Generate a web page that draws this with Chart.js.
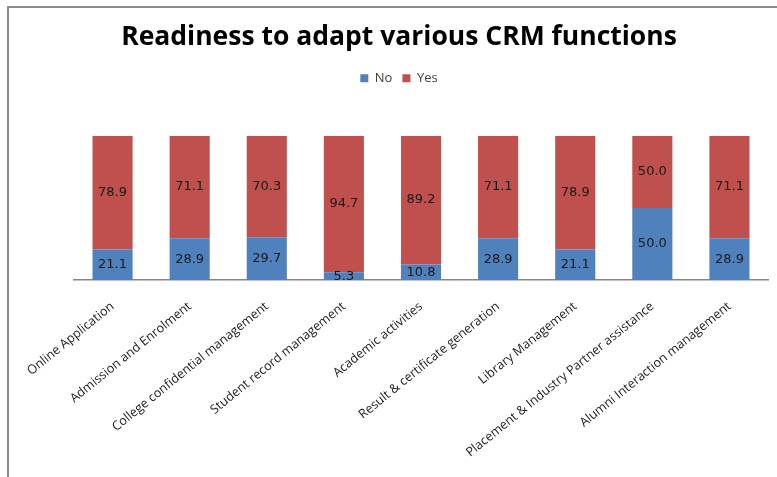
<!DOCTYPE html>
<html><head><meta charset="utf-8">
<script src="https://cdn.jsdelivr.net/npm/chart.js@4"></script>
<style>html,body{margin:0;padding:0;background:#fff}#wrap{width:777px;height:477px}</style>
</head><body><div id="wrap"><canvas id="c" width="777" height="477"></canvas></div>
<script>
const categories = ['Online Application','Admission and Enrolment','College confidential management','Student record management','Academic activities','Result & certificate generation','Library Management','Placement & Industry Partner assistance','Alumni Interaction management'];
const noValues = [21.1, 28.9, 29.7, 5.3, 10.8, 28.9, 21.1, 50.0, 28.9];
const yesValues = [78.9, 71.1, 70.3, 94.7, 89.2, 71.1, 78.9, 50.0, 71.1];
const seriesNames = ['No', 'Yes'];
const titleText = 'Readiness to adapt various CRM functions';

const frame = {
  id: 'frame',
  beforeDraw(chart) {
    const ctx = chart.ctx;
    ctx.save();
    ctx.fillStyle = '#fff';
    ctx.fillRect(0, 0, chart.width, chart.height);
    ctx.strokeStyle = '#8c8c8c';
    ctx.lineWidth = 2;
    ctx.beginPath();
    ctx.moveTo(8, 477); ctx.lineTo(8, 7); ctx.lineTo(777, 7);
    ctx.stroke();
    ctx.restore();
  }
};
const legendSpace = {
  id: 'legendSpace',
  beforeLayout(chart) {
    const lg = chart.legend;
    if (lg && !lg._patched) {
      const fit = lg.fit;
      lg.fit = function () { fit.call(this); this.height += 41; };
      lg._patched = true;
    }
  }
};
const valueLabels = {
  id: 'valueLabels',
  afterDatasetsDraw(chart) {
    const ctx = chart.ctx;
    ctx.save();
    ctx.font = '13px "DejaVu Sans"';
    ctx.fillStyle = '#1a1a1a';
    ctx.textAlign = 'center';
    ctx.textBaseline = 'middle';
    chart.data.datasets.forEach((ds, di) => {
      const meta = chart.getDatasetMeta(di);
      meta.data.forEach((el, i) => {
        const p = el.getProps(['x', 'y', 'base'], true);
        ctx.fillText(ds.data[i].toFixed(1), p.x, (p.y + p.base) / 2);
      });
    });
    ctx.restore();
  }
};

new Chart(document.getElementById('c'), {
  type: 'bar',
  data: {
    labels: categories,
    datasets: [
      { label: seriesNames[0], data: noValues, backgroundColor: '#4F81BD', barPercentage: 0.52, categoryPercentage: 1 },
      { label: seriesNames[1], data: yesValues, backgroundColor: '#C0504D', barPercentage: 0.52, categoryPercentage: 1 }
    ]
  },
  options: {
    responsive: false,
    animation: false,
    devicePixelRatio: 1,
    layout: { padding: { left: 30, right: 9, top: 22, bottom: 0 } },
    plugins: {
      title: { display: true, text: titleText, color: '#000', font: { family: 'Open Sans', weight: 'bold', size: 26.5 }, padding: { top: 0, bottom: 8 } },
      legend: { position: 'top', labels: { boxWidth: 8, boxHeight: 8, padding: 10, color: '#404040', font: { family: 'Open Sans', size: 13 } } },
      tooltip: { enabled: false }
    },
    scales: {
      x: {
        stacked: true,
        grid: { display: false },
        border: { display: true, color: '#868686', width: 1.5 },
        ticks: { autoSkip: false, minRotation: 39, maxRotation: 39, color: '#222', padding: 11, font: { family: 'Open Sans', size: 12.6 } },
        afterFit(scale) { scale.height = 197; }
      },
      y: {
        stacked: true, display: true, min: 0, max: 100,
        grid: { display: false, drawTicks: false },
        border: { display: false },
        ticks: { display: false },
        afterFit(scale) { scale.width = 44; }
      }
    }
  },
  plugins: [frame, legendSpace, valueLabels]
});
</script></body></html>
